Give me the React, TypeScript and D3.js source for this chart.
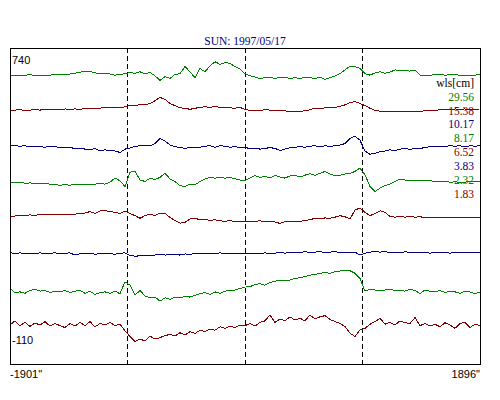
import { useRef, useEffect } from 'react'
import * as d3 from 'd3'

// scan across the disk, 8 wavelengths stacked
const title = 'SUN: 1997/05/17'
const xDomain = [-1901, 1896]
const yDomain = [-110, 740]
const xTickLabels = ['-1901"', '1896"']
const yTickLabels = ['740', '-110']
const limbs = [-955, 0, 945]
const legendTitle = 'wls[cm]'
const wavelengths = ['29.56', '15.38', '10.17', '8.17', '6.52', '3.83', '2.32', '1.83']
const colors = ['#008000', '#800000', '#000080', '#008000', '#800000', '#000080', '#008000', '#800000']
const offsets = [667, 573, 477, 378, 288, 188, 84, -3]

const s1 = [0,0,0,0,1,-1,0,-1,0,2, 3,2,3,5,8,10,10,6,5,4, 3,0,2,4,7,5,9,4,7,-2, -14,-4,-9,2,4,23,9,-7,18,9, 25,36,29,34,32,23,16,4,-2,-5, -9,-7,-5,-9,-6,-6,-9,-7,-9,-5, -7,-9,-6,-11,-7,-2,4,14,24,23, 18,4,0,6,9,5,8,14,13,12, 11,14,0,0,-1,2,2,0,1,1, 0,0,-1,0,2]
const s2 = [0,0,1,-1,0,1,0,2,1,2, 1,3,2,3,2,4,3,5,5,7, 6,7,6,9,12,13,14,14,18,25, 34,29,18,12,6,5,2,5,7,9, 7,10,7,8,6,5,7,2,-1,0, -1,1,0,-1,0,-2,-4,-4,-3,-2, 1,5,4,6,8,7,10,14,20,23, 18,12,5,-1,-3,-3,-3,-3,-3,-3, -3,-3,-3,-2,0,-1,1,2,1,3, 2,3,1,2,3]
const s3 = [0,0,-1,0,-3,-1,-2,-4,-1,-3, -4,-5,-5,-7,-6,-9,-11,-7,-14,-11, -13,-14,-18,-9,-6,-2,0,2,0,6, 20,13,2,-3,-4,-7,-4,-5,-4,-1, 0,-4,0,-1,-4,-2,-5,-5,-7,-6, -9,-7,-5,-7,-13,-9,-5,-4,-2,-4, -1,0,-3,0,-2,0,2,6,20,26, 15,-14,-23,-20,-16,-14,-11,-13,-9,-7, -10,-7,-8,-4,-3,-2,-1,-2,0,-1, 0,-3,0,-1,0]
const s4 = [0,-1,1,-2,-1,-2,-3,-3,-4,-6, -7,-6,-7,-5,-6,-5,-4,-4,-3,-4, 1,12,5,-11,28,30,7,3,12,8, 14,25,10,3,-8,-11,-4,-6,3,10, 14,12,14,12,14,10,7,5,12,19, 14,17,12,19,15,12,18,20,15,20, 24,19,25,30,23,19,20,23,25,30, 39,21,-11,-24,-15,-8,-4,3,9,7, 5,6,5,5,5,3,2,3,1,2, 1,1,3,2,2]
const s5 = [-2,0,1,2,3,2,4,3,5,4, 5,3,4,5,7,8,12,7,14,15, 12,10,7,14,7,1,-6,1,5,1, 8,7,-4,-12,-19,-17,-8,-6,-10,-8, -12,-10,-13,-14,-12,-15,-14,-15,-14,-14, -13,-15,-14,-16,-20,-15,-14,-16,-14,-12, -10,-6,-8,-5,-6,-3,1,-2,-8,16, 22,10,1,7,14,10,-1,-3,0,-3, -1,-3,-2,-4,-5,-4,-5,-3,-5,-4, -5,-3,-5,-5,-4]
const s6 = [2,-1,1,-1,0,-2,1,-1,0,1, -2,0,1,-5,-1,-2,0,-3,-1,-2, -1,-3,0,1,-6,-8,-7,-6,-5,-5, -3,-5,-4,-3,-5,-2,-3,-1,0,-2, 0,-1,1,-1,0,-2,-1,0,-2,0, -1,1,-1,0,2,0,3,1,2,4, 2,3,4,2,3,4,2,3,2,3, -5,0,3,4,3,4,2,3,1,4, 2,3,1,3,0,2,1,3,0,2, 1,3,1,2,3]
const s7 = [9,-2,0,-4,4,7,2,4,-2,2, 0,4,-2,2,4,-4,2,-7,-2,0, -4,2,-5,27,18,-9,4,-11,-16,-14, -25,-16,-20,-14,-16,-12,-14,-9,-5,-2, -7,0,-4,2,4,5,9,13,14,20, 22,18,25,29,31,30,32,36,38,41, 45,47,50,52,50,54,56,59,57,50, 36,2,7,5,4,5,7,4,5,2, 7,4,-5,5,2,0,4,-2,2,0, -4,2,0,-5,0]
const s8 = [-2,9,-4,5,-6,3,-2,7,-5,2, -4,-9,2,-5,5,-4,7,-7,2,-2, 5,-4,0,-18,-33,-47,-40,-45,-32,-40, -36,-31,-27,-32,-23,-29,-20,-25,-16,-20, -13,-16,-7,-11,-5,-9,-2,-4,2,-5, 5,9,25,5,14,9,20,11,16,9, 25,14,20,23,13,7,2,-6,-24,-33, -15,-11,0,7,16,0,5,-2,9,4, 2,18,-4,2,-5,0,-7,4,-2,-11, 2,5,-9,0,-4]
const series = [s1, s2, s3, s4, s5, s6, s7, s8]

function App() {
  const svgRef = useRef<SVGSVGElement>(null)

  useEffect(() => {
    const w = 500
    const h = 400
    const left = 10, right = 480, top = 48, bottom = 364

    const svg = d3.select(svgRef.current)
      .attr('width', w)
      .attr('height', h)
    svg.selectAll('*').remove()

    const xScale = d3.scaleLinear().domain(xDomain).range([left, right])
    const yScale = d3.scaleLinear().domain(yDomain).range([bottom, top])

    svg.append('rect')
      .attr('width', w).attr('height', h).attr('fill', '#fff')

    // title
    svg.append('text')
      .attr('x', 245).attr('y', 45)
      .attr('text-anchor', 'middle')
      .attr('font-family', 'Liberation Serif')
      .attr('font-size', 11.5)
      .attr('fill', '#000080')
      .text(title)

    // limb markers
    svg.selectAll('.limb')
      .data(limbs)
      .join('line')
        .attr('x1', d => Math.round(xScale(d)) + 0.5)
        .attr('x2', d => Math.round(xScale(d)) + 0.5)
        .attr('y1', top)
        .attr('y2', bottom)
        .attr('stroke', '#000')
        .attr('stroke-dasharray', '5,3')
        .attr('shape-rendering', 'crispEdges')

    // the scans
    const idx = d3.scaleLinear().domain([0, s1.length - 1]).range(xDomain)
    series.forEach((vals, k) => {
      const line = d3.line<number>()
        .x((v, i) => xScale(idx(i)))
        .y(v => yScale(offsets[k] + v))
      svg.append('path')
        .attr('d', line(vals))
        .attr('fill', 'none')
        .attr('stroke', colors[k])
        .attr('stroke-width', 1)
        .attr('shape-rendering', 'crispEdges')
    })

    svg.append('rect')
      .attr('x', left + 0.5).attr('y', top + 0.5)
      .attr('width', right - left).attr('height', bottom - top)
      .attr('fill', 'none').attr('stroke', '#000')
      .attr('shape-rendering', 'crispEdges')

    // axis labels
    const sans = svg.append('g')
      .attr('font-family', 'Liberation Sans')
      .attr('font-size', 11)
      .attr('fill', '#000')
    sans.append('text').attr('x', left + 2).attr('y', yScale(740) + 16).text(yTickLabels[0])
    sans.append('text').attr('x', left + 2).attr('y', yScale(-110) - 20).text(yTickLabels[1])
    sans.append('text').attr('x', xScale(xDomain[0])).attr('y', 378).text(xTickLabels[0])
    sans.append('text').attr('x', xScale(xDomain[1])).attr('y', 378)
      .attr('text-anchor', 'end').text(xTickLabels[1])

    // legend
    const leg = svg.append('g')
      .attr('font-family', 'Liberation Serif')
      .attr('font-size', 11.5)
      .attr('text-anchor', 'end')
    leg.append('text').attr('x', 474).attr('y', 86.7).attr('fill', '#000').text(legendTitle)
    leg.selectAll('.wl')
      .data(wavelengths)
      .join('text')
        .attr('x', 474)
        .attr('y', (d, i) => 100.6 + i * 13.9)
        .attr('fill', (d, i) => colors[i])
        .text(d => d)
  }, [])

  return (
    <div>
      <svg ref={svgRef} style={{ position: 'absolute', left: 0, top: 0 }}></svg>
    </div>
  )
}

export default App
